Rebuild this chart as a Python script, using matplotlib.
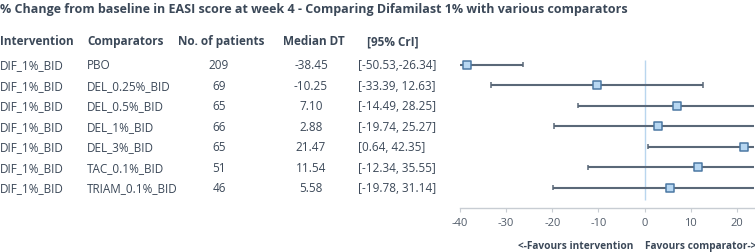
import matplotlib
import numpy as np
from matplotlib import pyplot as plt
from matplotlib import transforms

matplotlib.use('Agg')

# table data
interventions = ['DIF_1%_BID'] * 7
comparators = ['PBO', 'DEL_0.25%_BID', 'DEL_0.5%_BID', 'DEL_1%_BID',
               'DEL_3%_BID', 'TAC_0.1%_BID', 'TRIAM_0.1%_BID']
n_patients = [209, 69, 65, 66, 65, 51, 46]
median_dt = [-38.45, -10.25, 7.10, 2.88, 21.47, 11.54, 5.58]
cri_low = [-50.53, -33.39, -14.49, -19.74, 0.64, -12.34, -19.78]
cri_high = [-26.34, 12.63, 28.25, 25.27, 42.35, 35.55, 31.14]
cri_labels = ['[-50.53,-26.34]', '[-33.39, 12.63]', '[-14.49, 28.25]',
              '[-19.74, 25.27]', '[0.64, 42.35]', '[-12.34, 35.55]',
              '[-19.78, 31.14]']
x_ticks = [-40, -30, -20, -10, 0, 10, 20]

title = '% Change from baseline in EASI score at week 4 - Comparing Difamilast 1% with various comparators'
headers = ['Intervention', 'Comparators', 'No. of patients', 'Median DT', '[95% CrI]']

text_col = '#3b4858'
plt.rcParams['font.family'] = ['Open Sans', 'DejaVu Sans']
plt.rcParams['axes.unicode_minus'] = False

W, H = 755, 253
fig = plt.figure(figsize=(W / 100, H / 100), dpi=100)

# forest plot axes (pixel-based placement)
ax_bottom = 253 - 209.3
ax_h = 154
ax = fig.add_axes([460 / W, ax_bottom / H, (754 - 460) / W, ax_h / H])
xmin, xmax = -40, 23.7
ax.set_xlim(xmin, xmax)
ax.set_ylim(7, -0.5)

rows = np.arange(len(comparators))

# reference line at zero
ax.vlines(0, -0.2, 6.6, color='#b9d6ee', lw=1, zorder=1)

# credible intervals
ax.hlines(rows, cri_low, cri_high, color='#5a6878', lw=1.5, zorder=2)
for r, lo, hi in zip(rows, cri_low, cri_high):
    for end in (lo, hi):
        if xmin <= end <= xmax:
            ax.vlines(end, r - 0.13, r + 0.13, color='#5a6878', lw=1.1, zorder=2)

# medians
ax.scatter(median_dt, rows, marker='s', s=30, facecolor='#b7d7f2',
           edgecolor='#4b78a3', linewidth=1.1, zorder=3)

for side in ['top', 'right', 'left']:
    ax.spines[side].set_visible(False)
ax.spines['bottom'].set_color('#c8cdd3')
ax.spines['bottom'].set_linewidth(1)
ax.set_yticks([])
ax.set_xticks(x_ticks)
ax.tick_params(axis='x', length=3, color='#c8cdd3', labelsize=8,
               labelcolor='#505b69', pad=3)

# favours labels
trans_lbl = transforms.blended_transform_factory(ax.transData, fig.transFigure)
ax.text(-2.4, 1 - 246.7 / H, '<-Favours intervention', transform=trans_lbl,
        ha='right', va='center', fontsize=7.3, fontweight='bold', color=text_col)
ax.text(0, 1 - 246.7 / H, 'Favours comparator->', transform=trans_lbl,
        ha='left', va='center', fontsize=7.3, fontweight='bold', color=text_col)

# table text, x in figure pixels, y in row units
trans_tab = transforms.blended_transform_factory(fig.transFigure, ax.transData)
header_y = -1.16
fig.text(0, 1 - 9 / H, title, ha='left', va='center', fontsize=9,
         fontweight='bold', color=text_col)

header_x = [0, 87, 178, 283, 367]
for hx, h in zip(header_x, headers):
    ax.text(hx / W, header_y, h, transform=trans_tab, ha='left', va='center',
            fontsize=8.5, fontweight='bold', color=text_col, clip_on=False)

for r in rows:
    ax.text(0, r, interventions[r], transform=trans_tab, ha='left', va='center',
            fontsize=8.5, color=text_col, clip_on=False)
    ax.text(87 / W, r, comparators[r], transform=trans_tab, ha='left', va='center',
            fontsize=8.5, color=text_col, clip_on=False)
    ax.text(219 / W, r, str(n_patients[r]), transform=trans_tab, ha='center',
            va='center', fontsize=8.5, color=text_col, clip_on=False)
    ax.text(311 / W, r, f'{median_dt[r]:.2f}', transform=trans_tab, ha='center',
            va='center', fontsize=8.5, color=text_col, clip_on=False)
    ax.text(358 / W, r, cri_labels[r], transform=trans_tab, ha='left',
            va='center', fontsize=8.5, color=text_col, clip_on=False)

fig.savefig('out.png', dpi=100)
